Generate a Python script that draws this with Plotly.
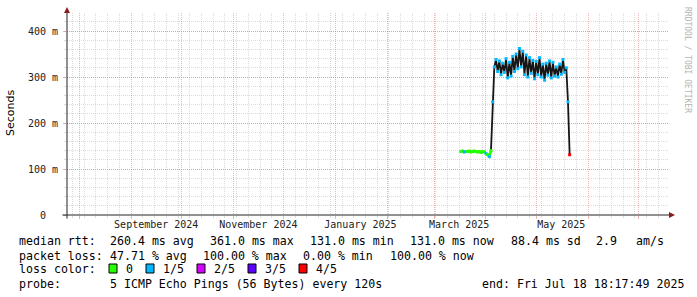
import plotly.graph_objects as go
import pandas as pd

# ---------------- data ----------------
quiet_start = "2025-03-17"
quiet_ms = [138, 139, 137, 138, 138, 139, 137, 138, 139, 138, 137, 138, 136, 138, 137, 134, 131, 127, 140]
quiet_loss = [0, 0, 1, 1, 0, 0, 0, 0, 0, 0, 0, 0, 0, 0, 0, 1, 0, 1, 0]

busy_start = "2025-04-05"
busy_ms = [246,
           322, 338, 312, 335, 305, 330, 310, 340, 298, 332, 302, 345, 312, 350, 318, 362,
           322, 356, 305, 348, 300, 342, 308, 336, 296, 334, 305, 342, 300, 328, 293, 330,
           304, 335, 298, 332, 302, 322, 300, 328, 306, 338, 310, 320,
           246, 131]
busy_loss = [1] * 46 + [4]

month_label_dates = ["2024-09-16", "2024-11-16", "2025-01-16", "2025-03-16", "2025-05-16"]
month_labels = ["September 2024", "November 2024", "January 2025", "March 2025", "May 2025"]

y_tick_vals = [0, 0.1, 0.2, 0.3, 0.4]
y_tick_text = ["0\u00a0\u00a0", "100 m", "200 m", "300 m", "400 m"]

loss_names = ["0", "1/5", "2/5", "3/5", "4/5"]
loss_colors = ["#26ff00", "#00b8ff", "#d600ff", "#5e00ff", "#ff0000"]

row_rtt = [("median rtt:", 16.5), ("260.4 ms avg", 107.5), ("361.0 ms max", 207.5),
           ("131.0 ms min", 308), ("131.0 ms now", 408), ("88.4 ms sd", 508.5),
           ("2.9", 594), ("am/s", 634)]
row_loss = [("packet loss:", 16.5), ("47.71 % avg", 107.5), ("100.00 % max", 201),
            ("0.00 % min", 301), ("100.00 % now", 387.5)]
row_probe = [("probe:", 16.5), ("5 ICMP Echo Pings (56 Bytes) every 120s", 107.5),
             ("end: Fri Jul 18 18:17:49 2025", 480)]
loss_label_x = [124, 161, 212, 263, 314]
loss_box_x = [109, 146, 197, 248, 299]

# ---------------- geometry helpers ----------------
W, H = 697, 297
L, R, T, B = 67, 29, 13, 82
PW, PH = W - L - R, H - T - B


def px(xp):
    return (xp - L) / PW


def py(yp):
    return (H - B - yp) / PH


quiet_dates = pd.date_range(quiet_start, periods=len(quiet_ms), freq="D")
busy_dates = pd.date_range(busy_start, periods=len(busy_ms), freq="D")
q_s = [v / 1000 for v in quiet_ms]
b_s = [v / 1000 for v in busy_ms]

fig = go.Figure()

# busy segment (dark jagged line), joined to the last quiet point
fig.add_trace(go.Scatter(
    x=[quiet_dates[-1]] + list(busy_dates), y=[q_s[-1]] + b_s,
    mode="lines", line=dict(color="#161616", width=1.8), hoverinfo="skip", showlegend=False))
# quiet segment (green)
fig.add_trace(go.Scatter(
    x=quiet_dates, y=q_s, mode="lines",
    line=dict(color=loss_colors[0], width=2.6), hoverinfo="skip", showlegend=False))
# loss colored markers
fig.add_trace(go.Scatter(
    x=list(quiet_dates) + list(busy_dates), y=q_s + b_s, mode="markers",
    marker=dict(symbol="square", size=3, color=[loss_colors[l] for l in quiet_loss + busy_loss],
                line=dict(width=0)),
    hoverinfo="skip", showlegend=False))
# invisible trace for label axis
fig.add_trace(go.Scatter(x=month_label_dates, y=[None] * len(month_label_dates), xaxis="x2",
                         mode="markers", hoverinfo="skip", showlegend=False))

major_grid = "rgba(220,110,110,0.5)"
minor_grid = "rgba(165,165,165,0.4)"
dotdash = "1px,1px"
mono = "DejaVu Sans Mono"

fig.update_layout(
    width=W, height=H,
    margin=dict(l=L, r=R, t=T, b=B, pad=0),
    paper_bgcolor="white", plot_bgcolor="white",
    xaxis=dict(
        type="date", range=["2024-07-24 16:20", "2025-07-18 18:17"],
        tickmode="linear", tick0="2024-08-01", dtick="M1",
        showticklabels=False, ticks="outside", ticklen=3, tickcolor=major_grid,
        showgrid=True, gridcolor=major_grid, griddash=dotdash, gridwidth=1,
        minor=dict(tick0="2024-07-28", dtick=7 * 86400000, showgrid=True,
                   gridcolor=minor_grid, griddash=dotdash, ticks="outside", ticklen=2,
                   tickcolor=minor_grid),
        zeroline=False, showline=False, fixedrange=True),
    xaxis2=dict(
        type="date", overlaying="x", matches="x", anchor="y", side="bottom",
        tickmode="array", tickvals=month_label_dates, ticktext=month_labels,
        showgrid=False, ticks="", zeroline=False, showline=False,
        tickfont=dict(family=mono, size=10, color="#222"), ticklabelstandoff=2),
    yaxis=dict(
        range=[0, PH / 460], tickmode="array", tickvals=y_tick_vals, ticktext=y_tick_text,
        ticks="outside", ticklen=3, tickcolor=major_grid,
        showgrid=True, gridcolor=major_grid, griddash=dotdash, gridwidth=1,
        minor=dict(dtick=0.02, showgrid=True, gridcolor=minor_grid, griddash=dotdash,
                   ticks="outside", ticklen=2, tickcolor=minor_grid),
        zeroline=False, showline=False,
        tickfont=dict(family=mono, size=10, color="#222"), ticklabelstandoff=3),
    showlegend=False,
)

shapes = []
axis_col = "#222222"
arrow_col = "#8b1c1c"
shapes.append(dict(type="line", xref="paper", yref="paper", x0=px(62.5), x1=px(670), y0=0, y1=0,
                   line=dict(color=axis_col, width=1)))
shapes.append(dict(type="line", xref="paper", yref="paper", x0=0, x1=0, y0=py(218.5), y1=py(11),
                   line=dict(color=axis_col, width=1)))
shapes.append(dict(type="path", xref="paper", yref="paper",
                   path=f"M {px(669)},{py(212)} L {px(675)},{py(215)} L {px(669)},{py(218)} Z",
                   fillcolor=arrow_col, line=dict(width=0)))
shapes.append(dict(type="path", xref="paper", yref="paper",
                   path=f"M {px(64)},{py(13)} L {px(67)},{py(7)} L {px(70)},{py(13)} Z",
                   fillcolor=arrow_col, line=dict(width=0)))
for bx, col in zip(loss_box_x, loss_colors):
    shapes.append(dict(type="rect", xref="paper", yref="paper",
                       x0=px(bx), x1=px(bx + 8), y0=py(273), y1=py(264),
                       fillcolor=col, line=dict(color="black", width=1)))
fig.update_layout(shapes=shapes)

annotations = []
legend_font = dict(family=mono, size=11.6, color="black")
for rowy, row in [(241.5, row_rtt), (255.5, row_loss), (283.5, row_probe)]:
    for text, xp in row:
        annotations.append(dict(text=text.replace(" ", "\u00a0"), x=px(xp), y=py(rowy),
                                xref="paper", yref="paper", xanchor="left", yanchor="middle",
                                showarrow=False, font=legend_font))
annotations.append(dict(text="loss\u00a0color:", x=px(16.5), y=py(269), xref="paper", yref="paper",
                        xanchor="left", yanchor="middle", showarrow=False, font=legend_font))
for name, xp in zip(loss_names, loss_label_x):
    annotations.append(dict(text=name, x=px(xp), y=py(269), xref="paper", yref="paper",
                            xanchor="left", yanchor="middle", showarrow=False, font=legend_font))
annotations.append(dict(text="Seconds", x=px(10), y=py(113), xref="paper", yref="paper",
                        textangle=-90, xanchor="center", yanchor="middle", showarrow=False,
                        font=dict(family="DejaVu Sans", size=11, color="black")))
annotations.append(dict(text="RRDTOOL\u00a0/\u00a0TOBI\u00a0OETIKER", x=px(688), y=py(60),
                        xref="paper", yref="paper", textangle=90, xanchor="center",
                        yanchor="middle", showarrow=False,
                        font=dict(family=mono, size=8, color="#b4b4b4")))
fig.update_layout(annotations=annotations)

fig.write_html("out.html")
